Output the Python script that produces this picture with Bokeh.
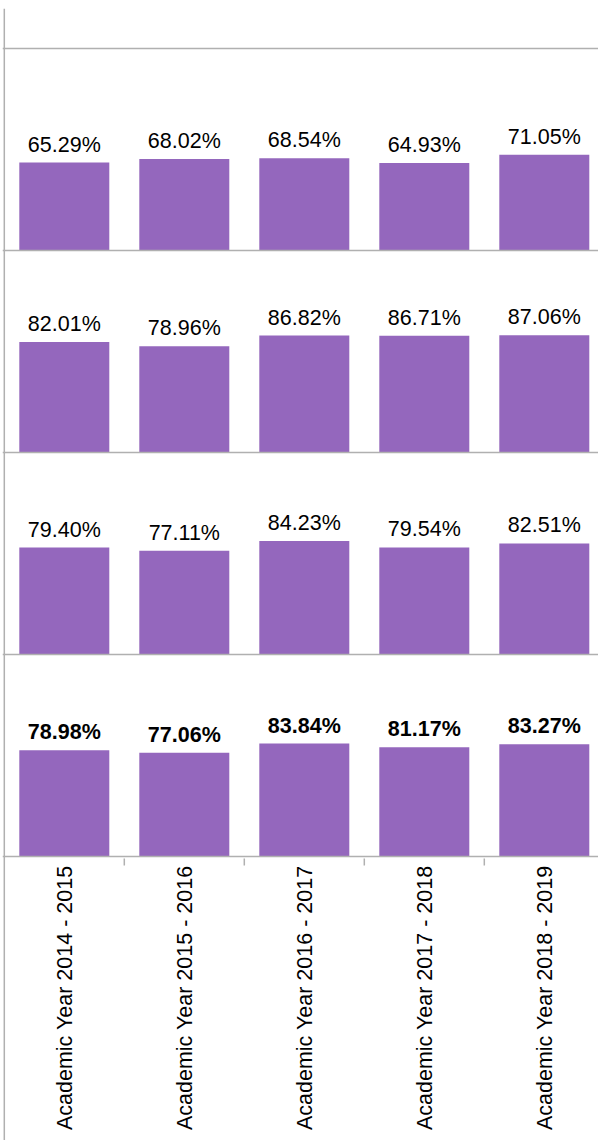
import math
from bokeh.plotting import figure
from bokeh.models import ColumnDataSource, Range1d, Span
from bokeh.core.properties import value
from bokeh.embed import file_html
from bokeh.resources import INLINE

# ---- data ----
years = [
    "Academic Year 2014 - 2015",
    "Academic Year 2015 - 2016",
    "Academic Year 2016 - 2017",
    "Academic Year 2017 - 2018",
    "Academic Year 2018 - 2019",
]
panel1 = [65.29, 68.02, 68.54, 64.93, 71.05]
panel2 = [82.01, 78.96, 86.82, 86.71, 87.06]
panel3 = [79.40, 77.11, 84.23, 79.54, 82.51]
panel4 = [78.98, 77.06, 83.84, 81.17, 83.27]   # total row (bold labels)

panels = [panel1, panel2, panel3, panel4]      # top to bottom

# ---- layout constants ----
W, H = 598, 1140
BORDER_LEFT, BORDER_TOP = 2, 8
FRAME_W = W - BORDER_LEFT
FRAME_H = H - BORDER_TOP
BAND_PX = 120.0
PANEL = 150.0            # value units per panel
PANEL_PX = 202.0
K = PANEL_PX / PANEL     # px per unit
HEADER_PX = 40.0
LABEL_PX = FRAME_H - HEADER_PX - 4 * PANEL_PX

BAR_COLOR = "#9467bd"
LINE_COLOR = "#b0b0b0"
TEXT_COLOR = "#000000"
FONT = "Liberation Sans"
FONT_SIZE = "21.5px"

n = len(years)
y_top = 4 * PANEL + HEADER_PX / K
y_bot = -LABEL_PX / K
x0 = -0.015

p = figure(width=W, height=H,
           x_range=Range1d(x0, x0 + FRAME_W / BAND_PX),
           y_range=Range1d(y_bot, y_top),
           output_backend="svg", toolbar_location=None,
           x_axis_location=None, y_axis_location=None,
           min_border=0, min_border_left=BORDER_LEFT, min_border_right=0,
           min_border_top=BORDER_TOP, min_border_bottom=0)
p.grid.visible = False
p.outline_line_color = None
p.background_fill_color = "white"
p.border_fill_color = "white"

xs, bottoms, tops, labels, styles = [], [], [], [], []
for pi_, vals in enumerate(panels):
    base = (len(panels) - 1 - pi_) * PANEL
    for i, v in enumerate(vals):
        xs.append(i + 0.5)
        bottoms.append(base)
        tops.append(base + v)
        labels.append(f"{v:.2f}%")
        styles.append("bold" if pi_ == len(panels) - 1 else "normal")

src = ColumnDataSource(dict(x=xs, bottom=bottoms, top=tops, label=labels, style=styles))

p.vbar(x="x", bottom="bottom", top="top", width=0.75, source=src,
       fill_color=BAR_COLOR, line_color=None)

p.text(x="x", y="top", text="label", source=src,
       text_align="center", text_baseline="alphabetic", y_offset=-18,
       text_font=value(FONT), text_font_size=FONT_SIZE,
       text_font_style="style", text_color=TEXT_COLOR)

# panel separator lines
for k in range(len(panels) + 1):
    p.add_layout(Span(location=k * PANEL, dimension="width",
                      line_color=LINE_COLOR, line_width=1.5))

# left vertical rule
p.add_layout(Span(location=0, dimension="height",
                  line_color=LINE_COLOR, line_width=1.5))

# tick marks between categories
tx = [i for i in range(1, n)]
p.segment(x0=tx, x1=tx, y0=[-2 / K] * len(tx), y1=[-9 / K] * len(tx),
          line_color=LINE_COLOR, line_width=1.5)

# category labels (rotated)
cat_src = ColumnDataSource(dict(x=[i + 0.5 for i in range(n)], y=[0] * n, text=years))
p.text(x="x", y="y", text="text", source=cat_src, angle=math.pi / 2,
       text_align="right", text_baseline="middle", y_offset=9, x_offset=1,
       text_font=value(FONT), text_font_size=FONT_SIZE, text_color=TEXT_COLOR)

open("out.html", "w").write(file_html(p, INLINE))
